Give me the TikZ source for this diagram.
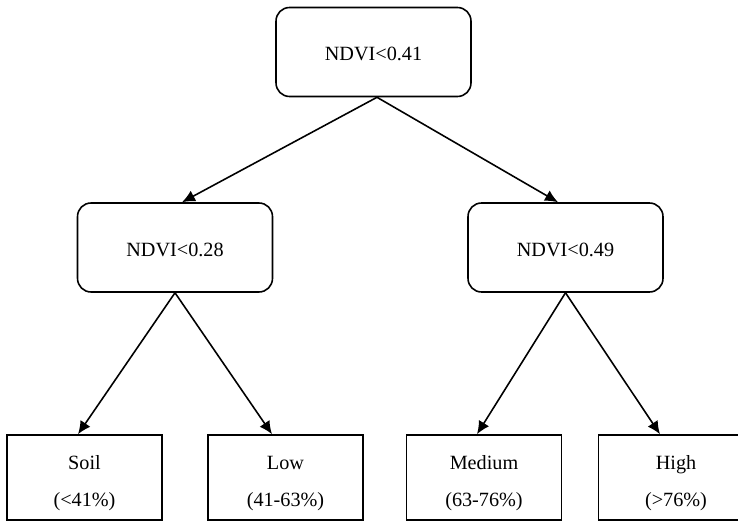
\documentclass[tikz,border=0pt]{standalone}
\usepackage{fontspec}
\setmainfont{Liberation Serif}
\usetikzlibrary{arrows.meta,positioning}

\begin{document}
\begin{tikzpicture}[x=0.02cm, y=-0.02cm,
    split/.style={draw, line width=0.9pt, rounded corners=0.27cm, minimum width=3.9cm, minimum height=1.78cm, text height=12pt, text depth=2pt, font=\fontsize{11.5}{13}\selectfont},
    leaf/.style={draw, line width=0.9pt, minimum width=3.1cm, minimum height=1.7cm, align=center, font=\fontsize{11.5}{13}\selectfont},
    arr/.style={-{Latex[length=2.6mm, width=2.4mm]}, line width=0.9pt}]
    \useasboundingbox (0,0) rectangle (738,521);
    \clip (0,0) rectangle (738,521);
    % decision nodes
    \node[split] (root) at (373.5,52) {NDVI<0.41};
    \node[split] (ndviL) at (175,247.5) {NDVI<0.28};
    \node[split] (ndviR) at (565.5,247.5) {NDVI<0.49};
    % classes
    \node[leaf] (soil) at (84.5,477.5) {\rule{0pt}{14pt}Soil\\[8pt](<41\%)};
    \node[leaf] (low) at (285.5,477.5) {\rule{0pt}{14pt}Low\\[8pt](41-63\%)};
    \node[leaf] (medium) at (484,477.5) {\rule{0pt}{14pt}Medium\\[8pt](63-76\%)};
    \node[leaf] (high) at (676,477.5) {\rule{0pt}{14pt}High\\[8pt](>76\%)};
    % branches
    \draw[arr] ([xshift=0.07cm]root.south) -- ([xshift=0.14cm]ndviL.north);
    \draw[arr] ([xshift=0.07cm]root.south) -- ([xshift=-0.15cm]ndviR.north);
    \draw[arr] (ndviL.south) -- ([xshift=-0.13cm]soil.north);
    \draw[arr] (ndviL.south) -- ([xshift=-0.27cm]low.north);
    \draw[arr] (ndviR.south) -- ([xshift=-0.14cm]medium.north);
    \draw[arr] (ndviR.south) -- ([xshift=-0.32cm]high.north);
\end{tikzpicture}
\end{document}
